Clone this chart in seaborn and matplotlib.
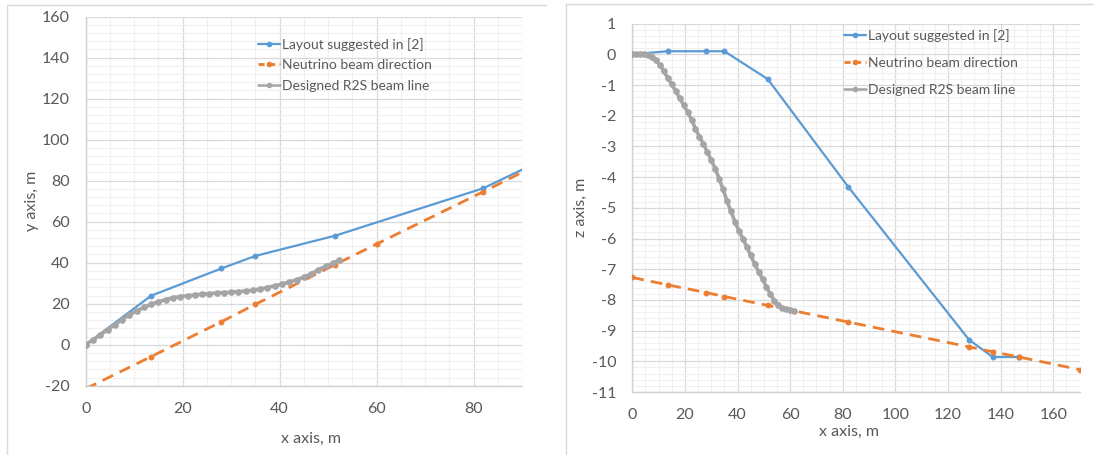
import matplotlib
matplotlib.use("Agg")
import matplotlib.pyplot as plt
from matplotlib.ticker import MultipleLocator
from matplotlib.lines import Line2D
import seaborn as sns

# ---------------- data ----------------
# Layout suggested in [2]
layout_x = [0, 13.5, 28, 35, 51.5, 82, 128, 137, 147]
layout_y = [0, 23.9, 37.2, 43.3, 53.2, 76.3, 128.5, 139, 151]
layout_z = [0, 0.1, 0.1, 0.1, -0.81, -4.31, -9.3, -9.86, -9.86]

# Neutrino beam direction
beam_x = [0, 13.5, 28, 35, 51.5, 60, 82, 128, 137, 147, 170]
beam_y = [-21.5, -5.8, 11.2, 19.7, 39.1, 49.1, 74.6, 129, 139.7, 151.5, 178.5]
beam_z = [-7.27, -7.51, -7.76, -7.89, -8.18, -8.33, -8.72, -9.53, -9.69, -9.86, -10.27]

# Designed R2S beam line (plan view: x, y)
r2s_xy_x = [0, 1.5, 3, 4.5, 6, 7.5, 9, 10.5, 12, 13.5, 15, 16.5, 18, 19.5, 21, 22.5,
            24, 25.5, 27, 28.5, 30, 31.5, 33, 34.5, 36, 37.5, 39, 40.5, 42, 43.5,
            45, 46.5, 48, 49.5, 51, 52.3]
r2s_xy_y = [0, 2.4, 4.8, 7.3, 9.8, 12.2, 14.6, 16.5, 18.2, 19.7, 21.0, 22.0, 22.9, 23.5,
            23.9, 24.3, 24.6, 24.9, 25.2, 25.4, 25.6, 25.9, 26.2, 26.6, 27.2, 27.9,
            28.7, 29.6, 30.6, 31.7, 33.0, 34.5, 36.6, 38.2, 39.7, 41.3]

# Designed R2S beam line (elevation: x, z)
r2s_xz_x = [0, 1.5, 3, 4.5, 6, 7.5, 9, 10.5, 12, 13.5, 15, 16.5, 18, 19.5, 21, 22.5,
            24, 25.5, 27, 28.5, 30, 31.5, 33, 34.5, 36, 37.5, 39, 40.5, 42, 43.5,
            45, 46.5, 48, 49.5, 51, 52.5, 54, 55.5, 57, 58.5, 60, 61.5]
r2s_xz_z = [0, 0, 0, 0, -0.03, -0.09, -0.2, -0.34, -0.55, -0.78, -0.98, -1.2, -1.42,
            -1.65, -1.88, -2.13, -2.42, -2.68, -2.92, -3.18, -3.45, -3.72, -4.05,
            -4.4, -4.78, -5.12, -5.45, -5.75, -6.0, -6.27, -6.55, -6.83, -7.08,
            -7.33, -7.58, -7.82, -8.02, -8.18, -8.25, -8.29, -8.32, -8.35]

left_xticks = [0, 20, 40, 60, 80]
left_yticks = [-20, 0, 20, 40, 60, 80, 100, 120, 140, 160]
right_xticks = [0, 20, 40, 60, 80, 100, 120, 140, 160]
right_yticks = [-11, -10, -9, -8, -7, -6, -5, -4, -3, -2, -1, 0, 1]

labels = ["Layout suggested in [2]", "Neutrino beam direction", "Designed R2S beam line"]

# ---------------- style ----------------
sns.set_style("white")
plt.rcParams["font.family"] = ["Lato", "DejaVu Sans"]
plt.rcParams["axes.unicode_minus"] = False

BLUE = "#5B9BD5"
ORANGE = "#ED7D31"
GREY = "#A5A5A5"
TXT = "#595959"
W, H = 1094, 455

fig = plt.figure(figsize=(W / 100, H / 100), dpi=100)
ax1 = fig.add_axes([85.7 / W, 1 - 385.7 / H, (522 - 85.7) / W, (385.7 - 16.7) / H])
ax2 = fig.add_axes([632.3 / W, 1 - 392 / H, (1079.6 - 632.3) / W, (392 - 23.6) / H])


def draw(ax, lx, ly, bx, by, gx, gy):
    sns.lineplot(x=lx, y=ly, ax=ax, color=BLUE, lw=1.6, marker="o", ms=3.5,
                 mec=BLUE, sort=False, estimator=None, legend=False, zorder=3)
    sns.lineplot(x=bx, y=by, ax=ax, color=ORANGE, lw=2.0, marker="o", ms=3.5,
                 mec=ORANGE, sort=False, estimator=None, legend=False, zorder=4)
    ax.lines[-1].set_dashes((4.2, 2.6))
    sns.lineplot(x=gx, y=gy, ax=ax, color=GREY, lw=2.6, marker="o", ms=4,
                 mec=GREY, sort=False, estimator=None, legend=False, zorder=5)


draw(ax1, layout_x, layout_y, beam_x, beam_y, r2s_xy_x, r2s_xy_y)
draw(ax2, layout_x, layout_z, beam_x, beam_z, r2s_xz_x, r2s_xz_z)

ax1.set_xlim(0, 90)
ax1.set_ylim(-20, 160)
ax1.set_xticks(left_xticks)
ax1.set_yticks(left_yticks)
ax1.xaxis.set_minor_locator(MultipleLocator(5))
ax1.yaxis.set_minor_locator(MultipleLocator(4))

ax2.set_xlim(0, 170)
ax2.set_ylim(-11, 1)
ax2.set_xticks(right_xticks)
ax2.set_yticks(right_yticks)
ax2.xaxis.set_minor_locator(MultipleLocator(5))
ax2.yaxis.set_minor_locator(MultipleLocator(0.2))

for ax in (ax1, ax2):
    ax.set_axisbelow(True)
    ax.grid(which="minor", color="#f0f0f0", lw=0.8)
    ax.grid(which="major", color="#d9d9d9", lw=0.9)
    ax.tick_params(which="major", direction="out", length=4.5, width=0.8,
                   color="#c8c8c8", pad=7, labelsize=11.5, labelcolor=TXT)
    ax.tick_params(which="minor", length=0)
    for s in ("top", "right"):
        ax.spines[s].set_visible(False)
    for s in ("left", "bottom"):
        ax.spines[s].set_color("#d0d0d0")
        ax.spines[s].set_linewidth(1.0)

ax1.set_xlabel("x axis, m", fontsize=11.5, color=TXT)
ax1.set_ylabel("y axis, m", fontsize=11.5, color=TXT)
ax1.xaxis.set_label_coords(0.516, -0.125)
ax1.yaxis.set_label_coords(-0.107, 0.5)
ax2.set_xlabel("x axis, m", fontsize=11.5, color=TXT)
ax2.set_ylabel("z axis, m", fontsize=11.5, color=TXT)
ax2.xaxis.set_label_coords(0.484, -0.09)
ax2.yaxis.set_label_coords(-0.099, 0.5)


def handles():
    return [
        Line2D([], [], color=BLUE, lw=1.6, marker="o", ms=3),
        Line2D([], [], color=ORANGE, lw=2.0, marker="o", ms=3, dashes=(2.2, 1.6)),
        Line2D([], [], color=GREY, lw=1.8, marker="o", ms=3),
    ]


ax1.legend(handles(), labels, loc="upper left", bbox_to_anchor=(258 / W, 1 - 38 / H),
           bbox_transform=fig.transFigure, frameon=False, fontsize=10,
           handlelength=1.58, handletextpad=0.12, labelspacing=0.6,
           borderpad=0, borderaxespad=0, labelcolor=TXT)
ax2.legend(handles(), labels, loc="upper left", bbox_to_anchor=(844 / W, 1 - 29 / H),
           bbox_transform=fig.transFigure, frameon=False, fontsize=10,
           handlelength=1.58, handletextpad=0.12, labelspacing=1.08,
           borderpad=0, borderaxespad=0, labelcolor=TXT)

# chart frames (light borders around each chart area)
fc = "#d9d9d9"
fig.add_artist(Line2D([7 / W, 7 / W], [0, 1 - 5 / H], transform=fig.transFigure, color=fc, lw=1))
fig.add_artist(Line2D([7 / W, 546 / W], [1 - 5 / H, 1 - 5 / H], transform=fig.transFigure, color=fc, lw=1))
fig.add_artist(Line2D([566 / W, 566 / W], [0, 1 - 3.5 / H], transform=fig.transFigure, color=fc, lw=1))
fig.add_artist(Line2D([566 / W, 1], [1 - 3.5 / H, 1 - 3.5 / H], transform=fig.transFigure, color=fc, lw=1))

fig.savefig("out.png", dpi=100)
